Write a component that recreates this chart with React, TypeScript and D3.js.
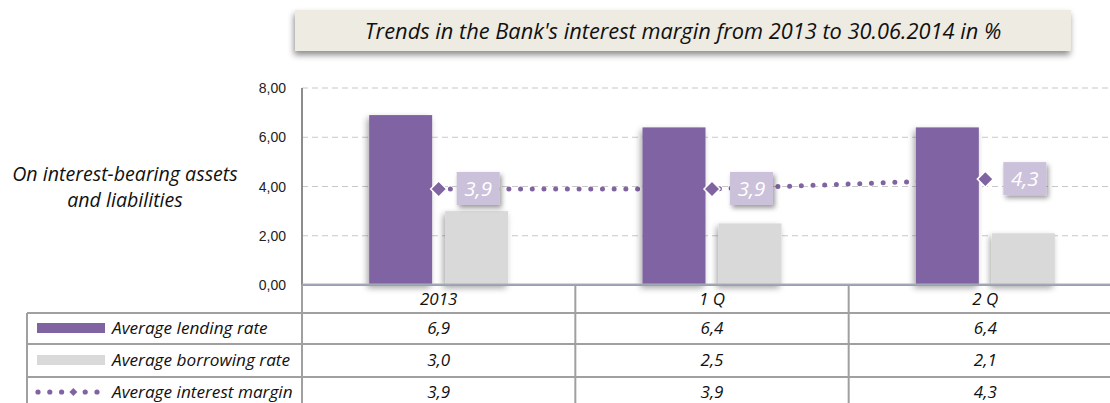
import React from "react";
import * as d3 from "d3";

const categories = ["2013", "1 Q", "2 Q"];
const lendingRate = [6.9, 6.4, 6.4];
const borrowingRate = [3.0, 2.5, 2.1];
const interestMargin = [3.9, 3.9, 4.3];
const yTicks = [0, 2, 4, 6, 8];
const seriesNames = ["Average lending rate", "Average borrowing rate", "Average interest margin"];
const titleText = "Trends in the Bank's interest margin from 2013 to 30.06.2014 in %";
const yLabelLines = ["On interest-bearing assets", "and liabilities"];

const PURPLE = "#8064a2";
const GRAY = "#d9d9d9";
const LABELBOX = "#ccc1da";
const LINE = "#a0a0a0";
const FONT = "'Open Sans', Lato, sans-serif";

const fmt = (v: number, d: number) => v.toFixed(d).replace(".", ",");

export default function App() {
  const W = 1110, H = 403;
  const plotLeft = 302, plotRight = 1122, yTop = 88, yBottom = 285;
  const x = d3.scaleBand<string>().domain(categories).range([plotLeft, plotRight]).padding(0);
  const y = d3.scaleLinear().domain([0, 8]).range([yBottom, yTop]);
  const inner = d3.scaleBand<string>().domain(["lend", "borrow"]).range([-69.5, 69.5]).paddingInner(0.171).paddingOuter(0);
  const cx = (c: string) => (x(c) as number) + x.bandwidth() / 2;

  const line = d3.line<number>().x((_, i) => cx(categories[i])).y((d) => y(d));

  const rowY = [299, 328, 360, 392];
  const hLines = [313, 344, 377];
  const tableRight = 1110;

  return (
    <svg width={W} height={H} style={{ display: "block", position: "absolute", left: 0, top: 0 }}>
      <defs>
        <filter id="barShadow" x="-30%" y="-10%" width="160%" height="130%">
          <feDropShadow dx="-2" dy="3" stdDeviation="3" floodColor="#000" floodOpacity="0.35" />
        </filter>
        <filter id="boxShadow" x="-30%" y="-30%" width="170%" height="170%">
          <feDropShadow dx="2" dy="3" stdDeviation="2.5" floodColor="#000" floodOpacity="0.4" />
        </filter>
        <filter id="titleShadow" x="-5%" y="-30%" width="110%" height="170%">
          <feDropShadow dx="-1" dy="4" stdDeviation="3" floodColor="#000" floodOpacity="0.45" />
        </filter>
      </defs>
      <rect x={0} y={0} width={W} height={H} fill="#fff" />

      {/* Title */}
      <rect x={295} y={10} width={776} height={41} fill="#eeebe2" filter="url(#titleShadow)" />
      <text x={683} y={38.5} textAnchor="middle" fontFamily={FONT} fontStyle="italic" fontSize={21.8} fill="#111">
        {titleText}
      </text>

      {/* Y label */}
      {yLabelLines.map((t, i) => (
        <text key={t} x={125} y={181 + i * 26} textAnchor="middle" fontFamily={FONT} fontStyle="italic" fontSize={19.6} fill="#111">
          {t}
        </text>
      ))}

      {/* grid */}
      {yTicks.filter((t) => t > 0).map((t) => (
        <line key={t} x1={plotLeft} x2={W} y1={y(t)} y2={y(t)} stroke="#c8c8c8" strokeWidth={1.2} strokeDasharray="6 4" />
      ))}
      {/* y ticks */}
      {yTicks.map((t) => (
        <text key={t} x={286} y={y(t) + 5} textAnchor="end" fontFamily="'Liberation Sans', Arial, sans-serif" fontSize={14} fill="#222">
          {fmt(t, 2)}
        </text>
      ))}

      {/* margin line (under bars) */}
      <path d={line(interestMargin) || ""} fill="none" stroke={PURPLE} strokeWidth={5} strokeLinecap="round" strokeDasharray="0 11.7" />

      {/* bars */}
      {categories.map((c, i) => (
        <g key={c}>
          <rect x={cx(c) + (inner("lend") as number)} y={y(lendingRate[i])} width={inner.bandwidth()} height={yBottom - y(lendingRate[i])} fill={PURPLE} filter="url(#barShadow)" />
          <rect x={cx(c) + (inner("borrow") as number)} y={y(borrowingRate[i])} width={inner.bandwidth()} height={yBottom - y(borrowingRate[i])} fill={GRAY} filter="url(#barShadow)" />
        </g>
      ))}

      {/* markers and labels */}
      {categories.map((c, i) => {
        const px = cx(c), py = y(interestMargin[i]);
        const s = 8;
        return (
          <g key={c}>
            <path d={`M${px - s},${py} L${px},${py - s} L${px + s},${py} L${px},${py + s} Z`} fill={PURPLE} stroke="#fff" strokeWidth={1.5} />
            <rect x={px + 18} y={py - 17} width={43} height={33} fill={LABELBOX} filter="url(#boxShadow)" />
            <text x={px + 39.5} y={py + 7} textAnchor="middle" fontFamily={FONT} fontStyle="italic" fontSize={20.5} fill="#fff">
              {fmt(interestMargin[i], 1)}
            </text>
          </g>
        );
      })}

      {/* axes */}
      <line x1={plotLeft} x2={plotLeft} y1={yTop} y2={yBottom} stroke="#8c8c8c" strokeWidth={2} />
      <line x1={plotLeft} x2={tableRight} y1={yBottom} y2={yBottom} stroke={LINE} strokeWidth={2} />
      <line x1={plotLeft} x2={tableRight} y1={yBottom - 1} y2={yBottom - 1} stroke="#9fb0d0" strokeWidth={1} />

      {/* table lines */}
      {hLines.map((hy) => (
        <line key={hy} x1={27} x2={tableRight} y1={hy} y2={hy} stroke={LINE} strokeWidth={2} />
      ))}
      <line x1={27} x2={27} y1={313} y2={H} stroke={LINE} strokeWidth={2} />
      <line x1={plotLeft} x2={plotLeft} y1={yBottom} y2={H} stroke={LINE} strokeWidth={2} />
      {categories.slice(1).map((c) => (
        <line key={c} x1={x(c) as number} x2={x(c) as number} y1={yBottom} y2={H} stroke={LINE} strokeWidth={2} />
      ))}

      {/* header */}
      {categories.map((c) => (
        <text key={c} x={cx(c)} y={rowY[0] + 5.5} textAnchor="middle" fontFamily={FONT} fontStyle="italic" fontSize={17} fill="#111">
          {c}
        </text>
      ))}

      {/* legend keys */}
      <rect x={37} y={323} width={68} height={10} fill={PURPLE} />
      <rect x={37} y={355} width={68} height={10} fill={GRAY} />
      {[0, 1, 2, 3, 4, 5].map((k) =>
        k === 3 ? (
          <path key={k} d={`M${38 + k * 11.8 - 4},392 L${38 + k * 11.8},388 L${38 + k * 11.8 + 4},392 L${38 + k * 11.8},396 Z`} fill={PURPLE} />
        ) : (
          <circle key={k} cx={38 + k * 11.8} cy={392} r={2.6} fill={PURPLE} />
        )
      )}
      {seriesNames.map((n, i) => (
        <text key={n} x={112} y={rowY[i + 1] + 5.5} fontFamily={FONT} fontStyle="italic" fontSize={17.2} fill="#111">
          {n}
        </text>
      ))}

      {/* values */}
      {[lendingRate, borrowingRate, interestMargin].map((arr, r) =>
        categories.map((c, i) => (
          <text key={`${r}-${c}`} x={cx(c)} y={rowY[r + 1] + 5.5} textAnchor="middle" fontFamily={FONT} fontStyle="italic" fontSize={17} fill="#111">
            {fmt(arr[i], 1)}
          </text>
        ))
      )}
    </svg>
  );
}
